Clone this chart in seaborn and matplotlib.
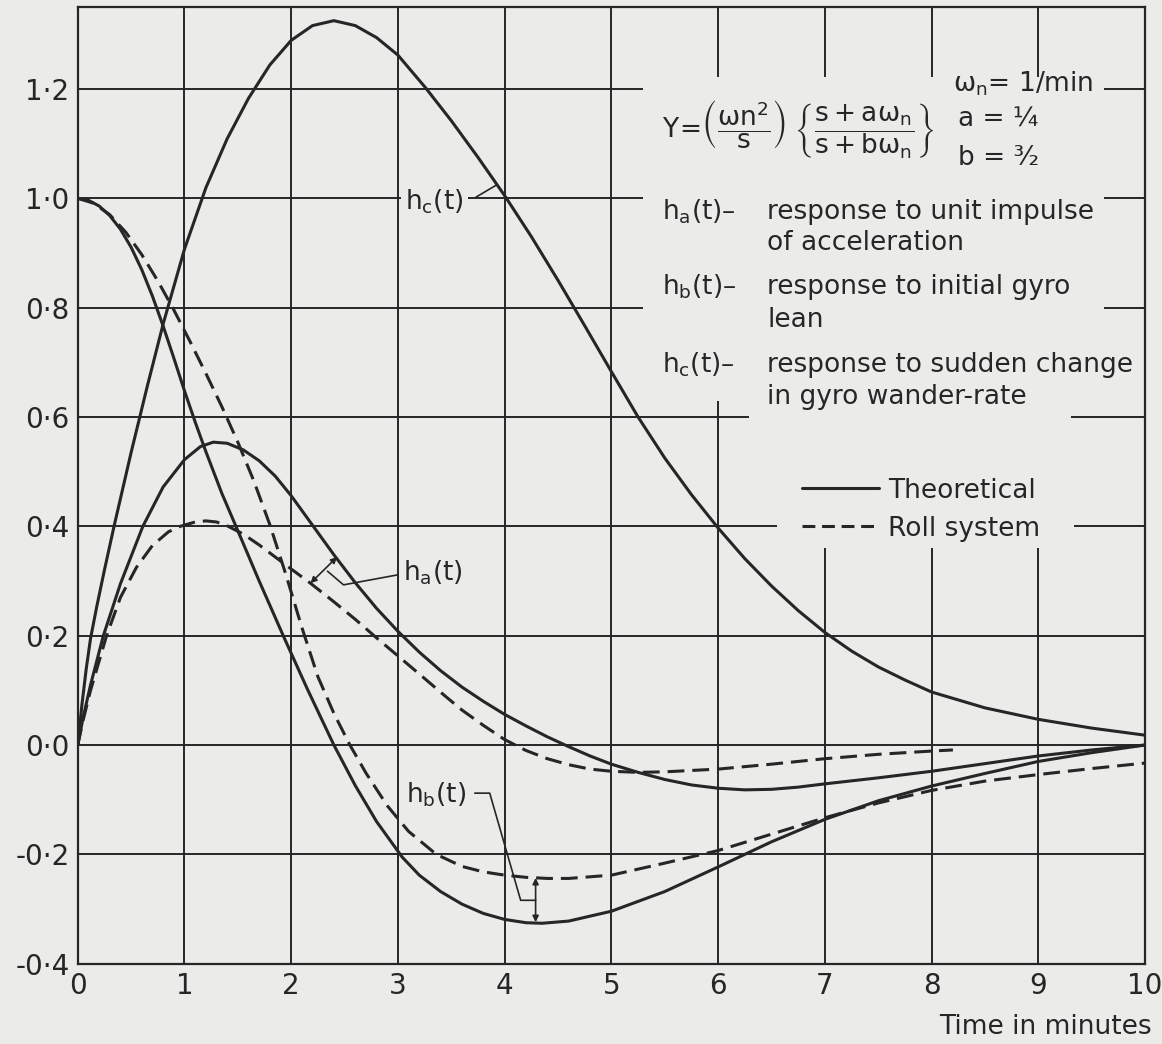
import matplotlib
matplotlib.use('Agg')
import matplotlib.pyplot as plt
from matplotlib.lines import Line2D
from matplotlib.patches import Rectangle
import pandas as pd
import seaborn as sns

# ---------------------------------------------
# data (time in minutes)
# ---------------------------------------------
t_hc = [0, 0.04, 0.08, 0.12, 0.18, 0.25, 0.34, 0.5, 0.65, 0.8, 1.0, 1.2, 1.4, 1.6,
        1.8, 2.0, 2.2, 2.4, 2.6, 2.8, 3.0, 3.26, 3.5, 3.75, 4.0, 4.25, 4.5, 4.75,
        5.0, 5.25, 5.5, 5.75, 6.0, 6.25, 6.5, 6.75, 7.0, 7.25, 7.5, 7.75, 8.0, 8.5,
        9.0, 9.5, 10.0]
hc_theory = [0, 0.075, 0.14, 0.195, 0.255, 0.32, 0.4, 0.535, 0.655, 0.77, 0.907,
             1.019, 1.109, 1.183, 1.244, 1.289, 1.316, 1.325, 1.316, 1.294, 1.262,
             1.202, 1.142, 1.075, 1.005, 0.93, 0.85, 0.767, 0.683, 0.6, 0.525, 0.458,
             0.397, 0.341, 0.291, 0.246, 0.206, 0.172, 0.143, 0.119, 0.097, 0.068,
             0.047, 0.031, 0.018]

t_ha = [0, 0.05, 0.12, 0.24, 0.4, 0.61, 0.8, 1.0, 1.15, 1.27, 1.4, 1.55, 1.7, 1.85,
        2.0, 2.2, 2.4, 2.6, 2.8, 3.0, 3.2, 3.4, 3.6, 3.8, 4.0, 4.2, 4.4, 4.6, 4.8,
        5.0, 5.25, 5.5, 5.75, 6.0, 6.25, 6.5, 6.75, 7.0, 7.5, 8.0, 8.5, 9.0, 9.5,
        10.0]
ha_theory = [0, 0.05, 0.11, 0.2, 0.295, 0.4, 0.472, 0.522, 0.546, 0.554, 0.552, 0.54,
             0.52, 0.492, 0.456, 0.402, 0.348, 0.297, 0.25, 0.208, 0.17, 0.136, 0.106,
             0.08, 0.056, 0.035, 0.015, -0.003, -0.02, -0.035, -0.05, -0.063, -0.073,
             -0.079, -0.082, -0.081, -0.077, -0.071, -0.06, -0.048, -0.034, -0.02,
             -0.009, 0.0]

t_ha_roll = [0, 0.05, 0.12, 0.27, 0.4, 0.55, 0.7, 0.85, 0.96, 1.1, 1.2, 1.3, 1.4,
             1.55, 1.7, 1.85, 2.0, 2.18, 2.4, 2.6, 2.8, 3.0, 3.2, 3.44, 3.6, 3.8, 4.0,
             4.2, 4.4, 4.6, 4.8, 5.0, 5.25, 5.5, 6.0, 6.5, 7.0, 7.5, 8.0, 8.2]
ha_roll = [0, 0.045, 0.1, 0.2, 0.27, 0.325, 0.365, 0.39, 0.4, 0.408, 0.41, 0.408,
           0.401, 0.386, 0.366, 0.344, 0.322, 0.296, 0.262, 0.23, 0.196, 0.163, 0.13,
           0.09, 0.064, 0.036, 0.01, -0.01, -0.025, -0.036, -0.044, -0.048, -0.05,
           -0.049, -0.044, -0.035, -0.025, -0.017, -0.011, -0.009]

t_hb = [0, 0.1, 0.2, 0.3, 0.4, 0.5, 0.6, 0.7, 0.8, 0.9, 1.0, 1.1, 1.2, 1.35, 1.5,
        1.7, 1.93, 2.15, 2.4, 2.6, 2.8, 3.04, 3.2, 3.4, 3.6, 3.8, 4.0, 4.2, 4.35,
        4.6, 5.0, 5.5, 6.0, 6.5, 7.0, 7.5, 8.0, 8.5, 9.0, 9.5, 10.0]
hb_theory = [1.0, 0.9965, 0.986, 0.9685, 0.9435, 0.9105, 0.8695, 0.821, 0.7665, 0.708,
             0.648, 0.591, 0.537, 0.4605, 0.392, 0.3, 0.198, 0.103, 0.0, -0.074,
             -0.14, -0.205, -0.238, -0.268, -0.291, -0.308, -0.319, -0.325, -0.326,
             -0.322, -0.304, -0.268, -0.223, -0.177, -0.136, -0.102, -0.075, -0.052,
             -0.03, -0.014, 0.0]

t_hb_roll = [0, 0.15, 0.3, 0.45, 0.6, 0.75, 0.9, 1.05, 1.2, 1.35, 1.5, 1.65, 1.8,
             1.95, 2.1, 2.25, 2.4, 2.55, 2.7, 2.9, 3.1, 3.36, 3.6, 3.8, 4.0, 4.2, 4.4,
             4.6, 5.0, 5.5, 6.0, 6.5, 7.0, 7.5, 8.0, 8.5, 9.0, 9.5, 10.0]
hb_roll = [1.0, 0.991, 0.97, 0.938, 0.897, 0.849, 0.796, 0.739, 0.68, 0.619, 0.554,
           0.483, 0.403, 0.312, 0.215, 0.125, 0.058, 0.0, -0.051, -0.111, -0.158,
           -0.2, -0.222, -0.232, -0.238, -0.242, -0.244, -0.244, -0.238, -0.216,
           -0.193, -0.163, -0.133, -0.106, -0.083, -0.066, -0.054, -0.043, -0.033]

x_ticks = list(range(11))
x_labels = [str(v) for v in x_ticks]
y_ticks = [-0.4, -0.2, 0.0, 0.2, 0.4, 0.6, 0.8, 1.0, 1.2]
y_labels = ['-0·4', '-0·2', '0·0', '0·2', '0·4', '0·6', '0·8', '1·0', '1·2']

# ---------------------------------------------
# long-form table for seaborn
# ---------------------------------------------
parts = [
    ('hc', 'Theoretical', t_hc, hc_theory),
    ('ha', 'Theoretical', t_ha, ha_theory),
    ('ha', 'Roll system', t_ha_roll, ha_roll),
    ('hb', 'Theoretical', t_hb, hb_theory),
    ('hb', 'Roll system', t_hb_roll, hb_roll),
]
df = pd.concat([pd.DataFrame({'t': t, 'h': h, 'curve': c + ' ' + s, 'system': s})
                for c, s, t, h in parts], ignore_index=True)

# ---------------------------------------------
# style
# ---------------------------------------------
bg = '#ebebea'
ink = '#262626'
sns.set_style('white', {'axes.facecolor': bg, 'figure.facecolor': bg,
                        'axes.edgecolor': ink})
plt.rcParams['font.family'] = ['DejaVu Sans']
plt.rcParams['mathtext.fontset'] = 'dejavusans'

fig = plt.figure(figsize=(11.62, 10.44), dpi=100)
ax = fig.add_axes([0.0669, 0.0769, 0.9185, 0.9164])

sns.lineplot(data=df, x='t', y='h', hue='curve', style='system',
             palette=[ink] * 5,
             dashes={'Theoretical': '', 'Roll system': (5.5, 2.6)},
             estimator=None, sort=False, legend=False, linewidth=2.2, ax=ax)

ax.set_xlim(0, 10)
ax.set_ylim(-0.4, 1.35)
ax.set_xticks(x_ticks)
ax.set_xticklabels(x_labels, fontsize=20)
ax.set_yticks(y_ticks)
ax.set_yticklabels(y_labels, fontsize=20)
ax.tick_params(length=0, pad=6, colors=ink)
ax.set_axisbelow(True)
ax.grid(True, color=ink, lw=1.4)
for sp in ax.spines.values():
    sp.set_linewidth(1.6)
    sp.set_color(ink)
ax.set_ylabel('')
ax.set_xlabel('Time in minutes', loc='right', fontsize=19, color=ink)
ax.xaxis.set_label_coords(1.006, -0.066)
ax.xaxis.label.set_va('center')

# blank panels behind the text block (grid is cut there)
for (x0, y0, w, h) in [(5.30, 0.63, 4.32, 0.592), (6.29, 0.45, 3.02, 0.20),
                       (6.55, 0.36, 2.78, 0.10)]:
    ax.add_patch(Rectangle((x0, y0), w, h, facecolor=bg, edgecolor='none', zorder=1))

fs = 19
ax.text(5.47, 1.125,
        r'$\mathrm{Y}\!=\!\left(\dfrac{\mathrm{\omega n^2}}{\mathrm{s}}\right)\;'
        r'\left\{\dfrac{\mathrm{s+a\omega_n}}{\mathrm{s+b\omega_n}}\right\}$',
        fontsize=fs, va='center', ha='left', color=ink)
ax.text(8.20, 1.21, 'ω$_\\mathrm{n}$= 1/min', fontsize=fs, va='center', color=ink)
ax.text(8.25, 1.143, 'a = ¼', fontsize=fs, va='center', color=ink)
ax.text(8.25, 1.074, 'b = ³⁄₂', fontsize=fs, va='center', color=ink)

rows = [(0.975, r'h$_\mathrm{a}$(t)–', 'response to unit impulse'),
        (0.918, '', 'of acceleration'),
        (0.838, r'h$_\mathrm{b}$(t)–', 'response to initial gyro'),
        (0.777, '', 'lean'),
        (0.695, r'h$_\mathrm{c}$(t)–', 'response to sudden change'),
        (0.637, '', 'in gyro wander-rate')]
for y, head, desc in rows:
    if head:
        ax.text(5.47, y, head, fontsize=fs, va='center', color=ink)
    ax.text(6.46, y, desc, fontsize=fs, va='center', color=ink)

# curve labels with leaders
ax.text(3.07, 0.993, r'h$_\mathrm{c}$(t)', fontsize=fs, va='center', color=ink,
        bbox=dict(facecolor=bg, edgecolor='none', pad=3), zorder=1.5)
ax.plot([3.73, 3.92], [1.002, 1.024], color=ink, lw=1.2)

ax.text(3.05, 0.315, r'h$_\mathrm{a}$(t)', fontsize=fs, va='center', color=ink)
ax.plot([2.99, 2.49, 2.34], [0.311, 0.293, 0.318], color=ink, lw=1.2)
ax.annotate('', xy=(2.43, 0.344), xytext=(2.18, 0.296),
            arrowprops=dict(arrowstyle='<|-|>', color=ink, lw=1.2,
                            mutation_scale=9, shrinkA=0, shrinkB=0))

ax.text(3.08, -0.091, r'h$_\mathrm{b}$(t)', fontsize=fs, va='center', color=ink)
ax.plot([3.72, 3.86, 4.15, 4.29], [-0.088, -0.088, -0.284, -0.284], color=ink, lw=1.2)
ax.annotate('', xy=(4.29, -0.243), xytext=(4.29, -0.324),
            arrowprops=dict(arrowstyle='<|-|>', color=ink, lw=1.2,
                            mutation_scale=9, shrinkA=0, shrinkB=0))

handles = [Line2D([], [], color=ink, lw=2.2),
           Line2D([], [], color=ink, lw=2.2, dashes=(4.2, 2.2))]
leg = ax.legend(handles, ['Theoretical', 'Roll system'], loc='upper left',
                bbox_to_anchor=(0.679, 0.508), frameon=False, fontsize=fs,
                handlelength=2.9, handletextpad=0.35, labelspacing=0.45,
                borderpad=0, borderaxespad=0)
for txt in leg.get_texts():
    txt.set_color(ink)

fig.savefig('out.png', dpi=100, facecolor=bg)
